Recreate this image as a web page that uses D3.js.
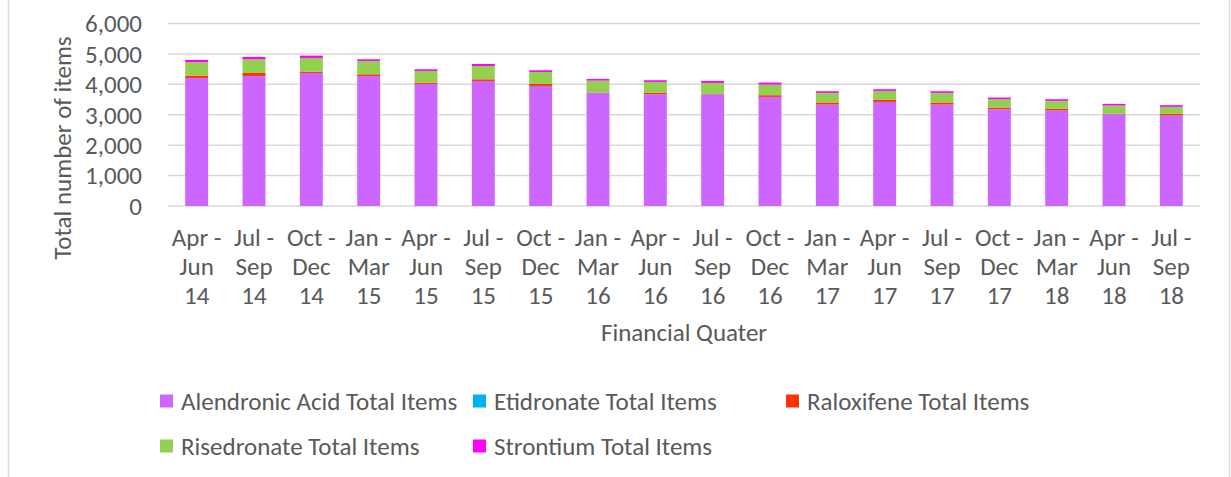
<!DOCTYPE html>
<html>
<head>
<meta charset="utf-8">
<script src="https://cdn.jsdelivr.net/npm/d3@7"></script>
<style>
  body { margin: 0; background: #fff; }
  text { font-family: Calibri, Carlito, Lato, sans-serif; fill: #595959; }
</style>
</head>
<body>
<div id="chart"></div>
<script>
const quarters = ["Apr - Jun 14", "Jul - Sep 14", "Oct - Dec 14", "Jan - Mar 15", "Apr - Jun 15", "Jul - Sep 15",
  "Oct - Dec 15", "Jan - Mar 16", "Apr - Jun 16", "Jul - Sep 16", "Oct - Dec 16", "Jan - Mar 17",
  "Apr - Jun 17", "Jul - Sep 17", "Oct - Dec 17", "Jan - Mar 18", "Apr - Jun 18", "Jul - Sep 18"];

const alendronic = [4207, 4273, 4372, 4273, 4010, 4109, 3945, 3715, 3672, 3672, 3585, 3334, 3421, 3334, 3180, 3137, 3016, 2973];
const etidronate = [3, 3, 3, 3, 3, 2, 2, 2, 2, 2, 2, 2, 2, 2, 2, 2, 2, 2];
const raloxifene = [80, 98, 44, 55, 44, 55, 66, 12, 55, 12, 55, 66, 66, 66, 55, 55, 12, 55];
const risedronate = [437, 448, 448, 437, 383, 437, 393, 393, 350, 360, 350, 317, 295, 317, 273, 262, 273, 230];
const strontium = [77, 77, 77, 55, 55, 66, 55, 55, 55, 66, 66, 55, 55, 55, 55, 55, 55, 55];

const seriesNames = ["Alendronic Acid Total Items", "Etidronate Total Items", "Raloxifene Total Items",
  "Risedronate Total Items", "Strontium Total Items"];
const seriesColors = ["#cc66ff", "#00b0f0", "#ff3300", "#92d050", "#ff00ff"];
const yTicks = [0, 1000, 2000, 3000, 4000, 5000, 6000];

const width = 1231, height = 477;
const fs = "25px";
const svg = d3.select("#chart").append("svg").attr("width", width).attr("height", height);

// outer chart border (only the sides are in view)
svg.append("line").attr("x1", 8.5).attr("x2", 8.5).attr("y1", 0).attr("y2", height).attr("stroke", "#d9d9d9").attr("stroke-width", 1.5);
svg.append("line").attr("x1", 1229.5).attr("x2", 1229.5).attr("y1", 0).attr("y2", height).attr("stroke", "#d9d9d9").attr("stroke-width", 1.5);

const x = d3.scaleBand().domain(quarters).range([168, 1200]).paddingInner(0.6).paddingOuter(0.3);
const y = d3.scaleLinear().domain([0, 6000]).range([206, 23.5]);

// gridlines
svg.append("g").selectAll("line").data(yTicks).enter().append("line")
  .attr("x1", 168).attr("x2", 1200)
  .attr("y1", (d) => y(d)).attr("y2", (d) => y(d))
  .attr("stroke", "#d9d9d9").attr("stroke-width", 1.5);

// y tick labels
svg.append("g").selectAll("text").data(yTicks).enter().append("text")
  .attr("x", 142).attr("y", (d) => y(d)).attr("dy", "0.35em")
  .attr("text-anchor", "end").style("font-size", fs)
  .text((d) => d3.format(",")(d));

// stacked bars
const rows = quarters.map((q, i) => ({
  quarter: q, s0: alendronic[i], s1: etidronate[i], s2: raloxifene[i], s3: risedronate[i], s4: strontium[i]
}));
const stack = d3.stack().keys(["s0", "s1", "s2", "s3", "s4"]);
const layers = stack(rows);

svg.append("g").selectAll("g").data(layers).enter().append("g")
  .attr("fill", (d, i) => seriesColors[i])
  .selectAll("rect").data((d) => d).enter().append("rect")
  .attr("x", (d) => x(d.data.quarter))
  .attr("width", x.bandwidth())
  .attr("y", (d) => y(d[1]))
  .attr("height", (d) => y(d[0]) - y(d[1]));

// x labels, three lines each
const xl = svg.append("g").selectAll("text").data(quarters).enter().append("text")
  .attr("text-anchor", "middle").style("font-size", fs);
xl.selectAll("tspan")
  .data((d) => { const m = d.match(/^(\w+ -) (\w+) (\d+)$/); return [m[1], m[2], m[3]]; })
  .enter().append("tspan")
  .attr("x", function () { return x(d3.select(this.parentNode).datum()) + x.bandwidth() / 2; })
  .attr("y", (d, i) => 237 + i * 29)
  .attr("dy", "0.35em")
  .text((d) => d);

// axis titles
svg.append("text").attr("x", 684).attr("y", 332).attr("dy", "0.35em")
  .attr("text-anchor", "middle").style("font-size", fs).text("Financial Quater");
svg.append("text").attr("transform", "translate(62,148) rotate(-90)").attr("dy", "0.35em")
  .attr("text-anchor", "middle").style("font-size", fs).text("Total number of items");

// legend
const legend = svg.append("g").selectAll("g").data(seriesNames).enter().append("g")
  .attr("transform", (d, i) => `translate(${160 + (i % 3) * 313},${i < 3 ? 401 : 446})`);
legend.append("rect").attr("x", 0).attr("y", -6.5).attr("width", 13).attr("height", 13)
  .attr("fill", (d, i) => seriesColors[i]);
legend.append("text").attr("x", 21).attr("dy", "0.35em").style("font-size", fs).text((d) => d);
</script>
</body>
</html>
